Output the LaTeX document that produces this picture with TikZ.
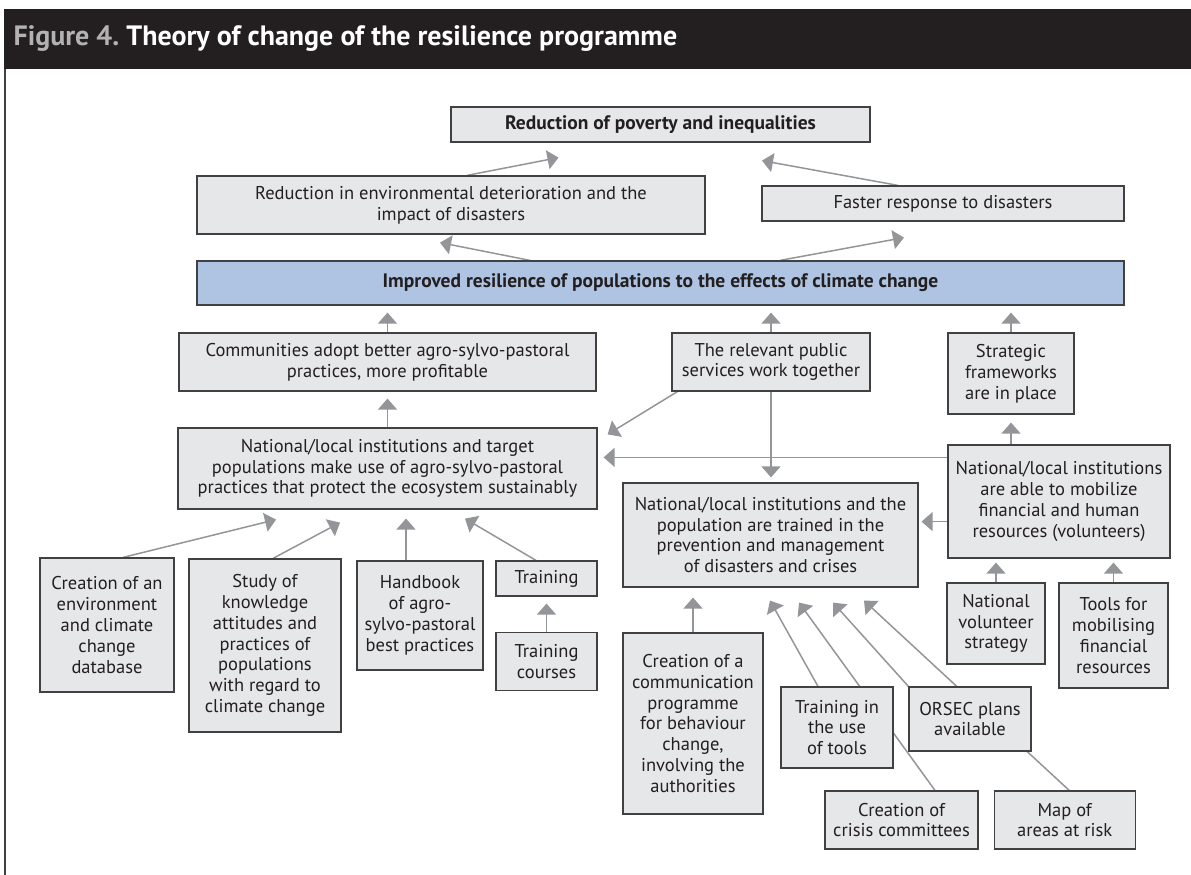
\documentclass[tikz,border=0pt]{standalone}
\usepackage{fontspec}
\setmainfont{PT Sans}
\usepackage{xcolor}
\usepackage{tikz}
\usetikzlibrary{arrows.meta, positioning, calc, backgrounds}
\definecolor{boxgray}{RGB}{230,231,232}
\definecolor{boxline}{RGB}{65,64,66}
\definecolor{arrowgray}{RGB}{147,149,152}
\definecolor{resblue}{RGB}{174,196,226}
\definecolor{headdark}{RGB}{35,31,32}
\definecolor{headgray}{RGB}{178,178,178}
\tikzstyle{box} = [rectangle, draw=boxline, line width=1.2pt, fill=boxgray, align=center, inner sep=0pt, text=headdark, font=\fontsize{18.5}{20.8}\selectfont]
\tikzstyle{arrow} = [line width=1.5pt, draw=arrowgray, -{Triangle[width=19pt,length=11pt]}]

\begin{document}
\begin{tikzpicture}[x=1pt, y=-1pt]
  \useasboundingbox (0,0) rectangle (1191,875);
  % header band and frame
  \fill[headdark] (4,9) rectangle (1191,69);
  \draw[boxline, line width=1.5pt] (5,69) -- (5,875);
  \node (title) [anchor=west, text=white, font=\fontsize{28}{32}\selectfont\bfseries] at (10,39) {\textcolor{headgray}{Figure 4.}\ Theory of change of the resilience programme};

  % top levels
  \node (poverty) [box, minimum width=419pt, minimum height=35pt, font=\fontsize{19.5}{20.8}\selectfont\bfseries] at (660.5,124.5) {Reduction of poverty and inequalities};
  \node (env) [box, minimum width=508pt, minimum height=58pt] at (451,205) {Reduction in environmental deterioration and the\\impact of disasters};
  \node (faster) [box, minimum width=362pt, minimum height=35pt] at (943,203.5) {Faster response to disasters};
  \node (resil) [box, fill=resblue, minimum width=927pt, minimum height=44pt, font=\fontsize{19.5}{20.8}\selectfont\bfseries] at (660.5,283) {Improved resilience of populations to the effects of climate change};

  % outcomes
  \node (comm) [box, minimum width=417pt, minimum height=58pt] at (387.5,362) {Communities adopt better agro-sylvo-pastoral\\practices, more profitable};
  \node (public) [box, minimum width=198pt, minimum height=58pt] at (771,362) {The relevant public\\services work together};
  \node (strat) [box, minimum width=126pt, minimum height=81pt] at (1011,373.5) {Strategic\\frameworks\\are in place};
  \node (agro) [box, minimum width=419pt, minimum height=81pt] at (387.5,468.5) {National/local institutions and target\\populations make use of agro-sylvo-pastoral\\practices that protect the ecosystem sustainably};
  \node (mobil) [box, minimum width=222pt, minimum height=113pt] at (1059,501.5) {National/local institutions\\are able to mobilize\\financial and human\\resources (volunteers)};
  \node (trained) [box, minimum width=295pt, minimum height=104pt] at (770.5,535) {National/local institutions and the\\population are trained in the\\prevention and management\\of disasters and crises};

  % activities
  \node (envdb) [box, minimum width=134pt, minimum height=134pt] at (107,625) {Creation of an\\environment\\and climate\\change\\database};
  \node (study) [box, minimum width=152pt, minimum height=173pt] at (265,645.5) {Study of\\knowledge\\attitudes and\\practices of\\populations\\with regard to\\climate change};
  \node (handbook) [box, minimum width=126pt, minimum height=109pt] at (420,615.5) {Handbook\\of agro-\\sylvo-pastoral\\best practices};
  \node (training) [box, minimum width=101pt, minimum height=35pt] at (546.5,578.5) {Training};
  \node (courses) [box, minimum width=101pt, minimum height=58pt, below=35pt of training] {Training\\courses};
  \node (commprog) [box, minimum width=140pt, minimum height=181pt] at (693,723.5) {Creation of a\\communication\\programme\\for behaviour\\change,\\involving the\\authorities};
  \node (tools) [box, minimum width=112pt, minimum height=81pt] at (837,727.5) {Training in\\the use\\of tools};
  \node (orsec) [box, minimum width=122pt, minimum height=64pt] at (970,719) {ORSEC plans\\available};
  \node (crisis) [box, minimum width=153pt, minimum height=58pt] at (901.5,820) {Creation of\\crisis committees};
  \node (riskmap) [box, minimum width=141pt, minimum height=58pt, right=15pt of crisis] {Map of\\areas at risk};
  \node (volunt) [box, minimum width=98pt, minimum height=81pt] at (996,623.5) {National\\volunteer\\strategy};
  \node (finance) [box, minimum width=109pt, minimum height=105pt] at (1113.5,635.5) {Tools for\\mobilising\\financial\\resources};

  \begin{scope}[on background layer]
    \draw[arrow] ($(env.north)+(16,0)$) -- ($(poverty.south)+(-102,15)$);
    \draw[arrow] ($(faster.north)+(-45,0)$) -- ($(poverty.south)+(101.5,18)$);
    \draw[arrow] ($(resil.north)+(-130.5,0)$) -- ($(env.south)+(-11,8)$);
    \draw[arrow] ($(resil.north)+(119.5,0)$) -- ($(faster.south)+(-39,16)$);
    \draw[arrow, shorten >=7pt] (comm.north) -- (comm.north |- resil.south);
    \draw[arrow, shorten >=7pt] (public.north) -- (public.north |- resil.south);
    \draw[arrow, shorten >=7pt] (strat.north) -- (strat.north |- resil.south);
    \draw[arrow, shorten >=7pt] (agro.north) -- (agro.north |- comm.south);
    \draw[arrow, shorten >=8pt] (strat.south |- mobil.north) -- (strat.south);
    \draw[arrow] ($(public.south west)+(6,0)$) -- ($(agro.north east)+(10,7)$);
    \draw[arrow, shorten >=6pt] ($(mobil.north west)+(0,13)$) coordinate (m1) -- (m1 -| agro.east);
    \draw[arrow, shorten >=5pt] (public.south) -- (public.south |- trained.north);
    \draw[arrow, shorten >=3pt] ($(mobil.south west)+(0,-37)$) coordinate (m2) -- (m2 -| trained.east);
    \draw[arrow, shorten >=4pt] (volunt.north) -- (volunt.north |- mobil.south);
    \draw[arrow, shorten >=4pt] (finance.north) -- (finance.north |- mobil.south);
    \draw[arrow] ($(envdb.north)+(16,0)$) -- ($(agro.south)+(-111.5,10)$);
    \draw[arrow] ($(study.north)+(8,0)$) -- ($(agro.south)+(-47.5,13)$);
    \draw[arrow, shorten >=9pt] ($(handbook.north)+(-14,0)$) coordinate (h1) -- (h1 |- agro.south);
    \draw[arrow] ($(training.north)+(-10.5,0)$) -- ($(agro.south)+(77.5,9)$);
    \draw[arrow, shorten >=7pt] (courses.north) -- (training.south);
    \draw[arrow, shorten >=10pt] (commprog.north) -- (commprog.north |- trained.south);
    \draw[arrow] ($(tools.north)+(-19,0)$) -- ($(trained.south)+(-0.5,13)$);
    \draw[arrow] ($(crisis.north)+(33.5,0)$) -- ($(trained.south)+(28.5,15)$);
    \draw[arrow] (orsec.north west) -- ($(trained.south)+(62.5,15)$);
    \draw[arrow] ($(riskmap.north)+(4.5,0)$) -- ($(trained.south)+(93.5,13)$);
  \end{scope}
\end{tikzpicture}
\end{document}
